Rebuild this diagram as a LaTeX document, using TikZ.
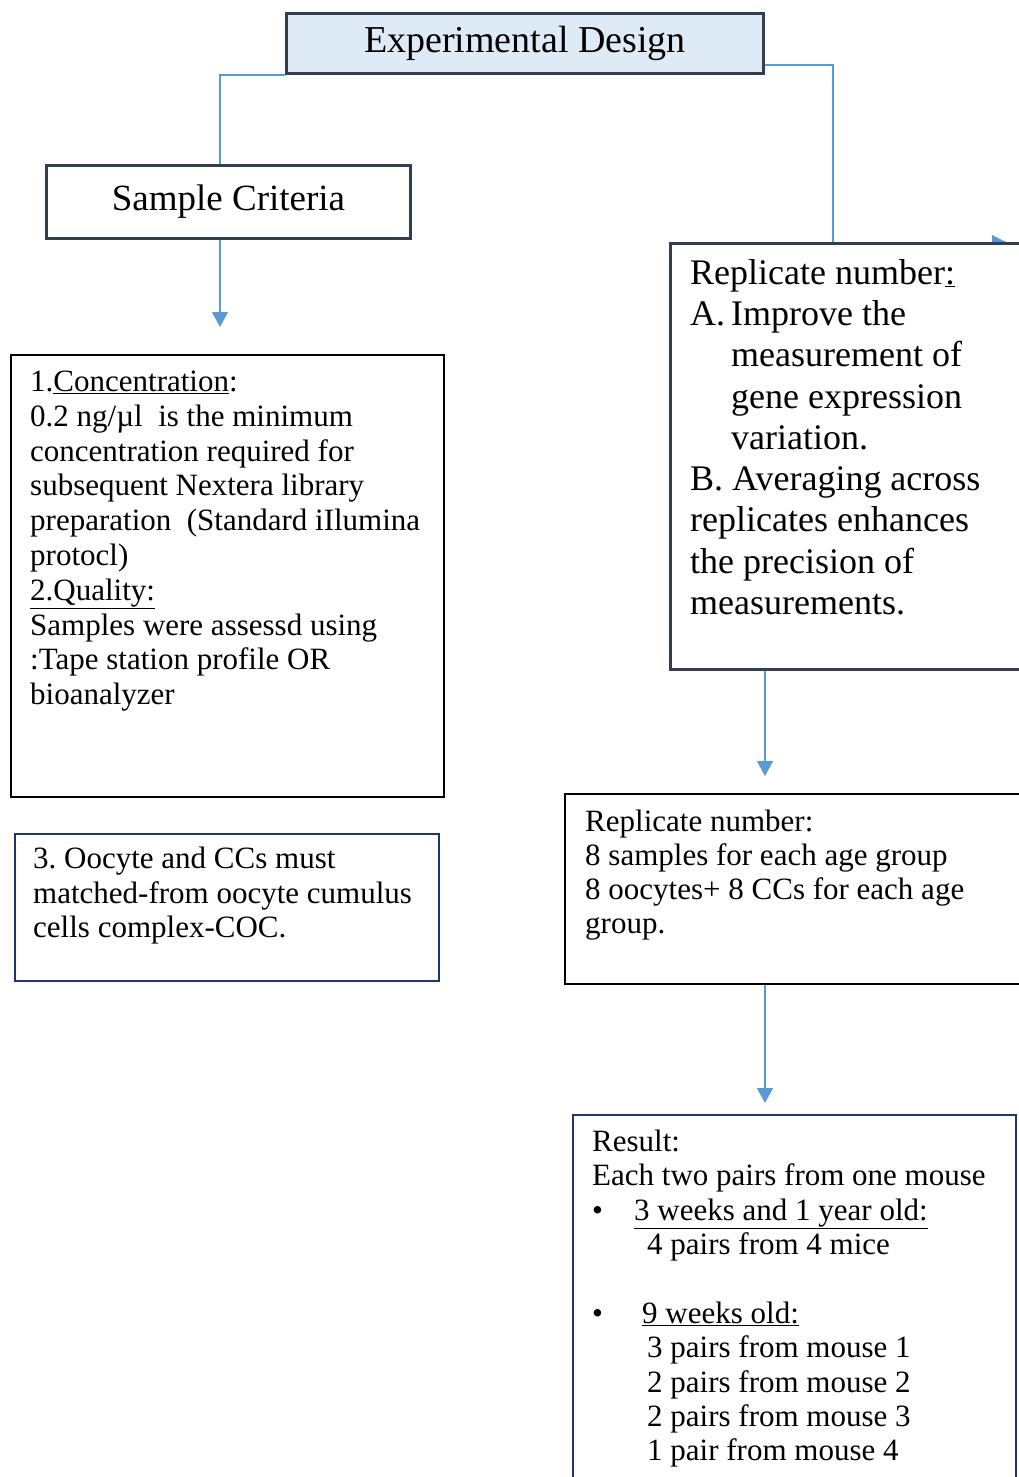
\documentclass[tikz,border=0pt]{standalone}
\usepackage{fontspec}
\setmainfont{Liberation Serif}
\usetikzlibrary{arrows.meta,calc}
\definecolor{slate}{HTML}{333F50}
\definecolor{lblue}{HTML}{DEEBF7}
\definecolor{conblue}{HTML}{5B9BD5}
\definecolor{navy}{HTML}{1F3570}
\frenchspacing
\begin{document}
\begin{tikzpicture}[x=1pt,y=-1pt,
  tbox/.style={draw=slate, line width=3pt, fill=white, inner sep=0pt, anchor=north west},
  bbox/.style={draw=black, line width=2pt, fill=white, inner sep=0pt, anchor=north west},
  nbox/.style={draw=navy, line width=2pt, fill=white, inner sep=0pt, anchor=north west},
  conn/.style={draw=conblue, line width=1.3pt},
  arr/.style={conn, -{Triangle[width=16pt,length=15pt]}},
  txt/.style={anchor=north west, inner sep=0pt, align=left}]
\clip (0,0) rectangle (1019,1477);
\fill[white] (0,0) rectangle (1019,1477);
% partial arrow tip at the right edge
\fill[conblue] (992,235) -- (1008,243) -- (992,251) -- cycle;
% boxes
\node[tbox, fill=lblue, minimum width=477pt, minimum height=60pt, font=\fontsize{38}{40}\selectfont] (ed) at (285,12) {Experimental Design};
\node[tbox, minimum width=364pt, minimum height=73pt, font=\fontsize{37}{40}\selectfont] (sc) at (45,164) {\raisebox{3pt}{Sample Criteria}};
\node[bbox, minimum width=433pt, minimum height=442pt] (lb1) at (10,354) {};
\node[nbox, minimum width=424pt, minimum height=147pt] (lb2) at (14,833) {};
\node[tbox, minimum width=400pt, minimum height=426pt] (r1) at (669,242) {};
\node[bbox, minimum width=500pt, minimum height=190pt] (r2) at (564,793) {};
\node[nbox, minimum width=443pt, minimum height=400pt] (r3) at (572,1114) {};
% helper coordinates
\coordinate (xl) at (220,0);
\coordinate (xr) at (833,0);
\coordinate (xm) at (765,0);
% connectors
\draw[conn] (ed.south west) -| (sc.north -| xl);
\draw[conn] ($(ed.south east)+(0,-10)$) -| (r1.north -| xr);
\draw[arr] (sc.south -| xl) -- ($(lb1.north -| xl)+(0,-27)$);
\draw[arr] (r1.south -| xm) -- ($(r2.north -| xm)+(0,-17)$);
\draw[arr] (r2.south -| xm) -- ($(r3.north -| xm)+(0,-11)$);
% texts
\node[txt, font=\fontsize{31}{34.8}\selectfont] (t1) at (30,367) {\strut 1.\underline{Concentration}:\\
0.2 ng/µl~ is the minimum\\
concentration required for\\
subsequent Nextera library\\
preparation~ (Standard iIlumina\\
protocl)\\
\underline{2.Quality:}\\
Samples were assessd using\\
:Tape station profile OR\\
bioanalyzer};
\node[txt, font=\fontsize{31}{34.7}\selectfont] (t2) at (33,844) {\strut 3. Oocyte and CCs must\\
matched-from oocyte cumulus\\
cells complex-COC.};
\node[txt, font=\fontsize{36}{41.3}\selectfont] (t3) at (690,255) {\strut Replicate number\underline{:}\\
\makebox[41pt][l]{A.}Improve the\\
\hspace*{41pt}measurement of\\
\hspace*{41pt}gene expression\\
\hspace*{41pt}variation.\\
B. Averaging across\\
replicates enhances\\
the precision of\\
measurements.};
\node[txt, font=\fontsize{31}{34}\selectfont] (t4) at (585,807) {\strut Replicate number:\\
8 samples for each age group\\
8 oocytes+ 8 CCs for each age\\
group.};
\node[txt, font=\fontsize{31}{34.4}\selectfont] (t5) at (592,1127) {\strut Result:\\
Each two pairs from one mouse\\
\makebox[42pt][l]{\textbullet}\underline{3 weeks and 1 year old:}\\
\hspace*{55pt}4 pairs from 4 mice\\
~\\
\makebox[50pt][l]{\textbullet}\underline{9 weeks old:}\\
\hspace*{55pt}3 pairs from mouse 1\\
\hspace*{55pt}2 pairs from mouse 2\\
\hspace*{55pt}2 pairs from mouse 3\\
\hspace*{55pt}1 pair from mouse 4};
\end{tikzpicture}
\end{document}
